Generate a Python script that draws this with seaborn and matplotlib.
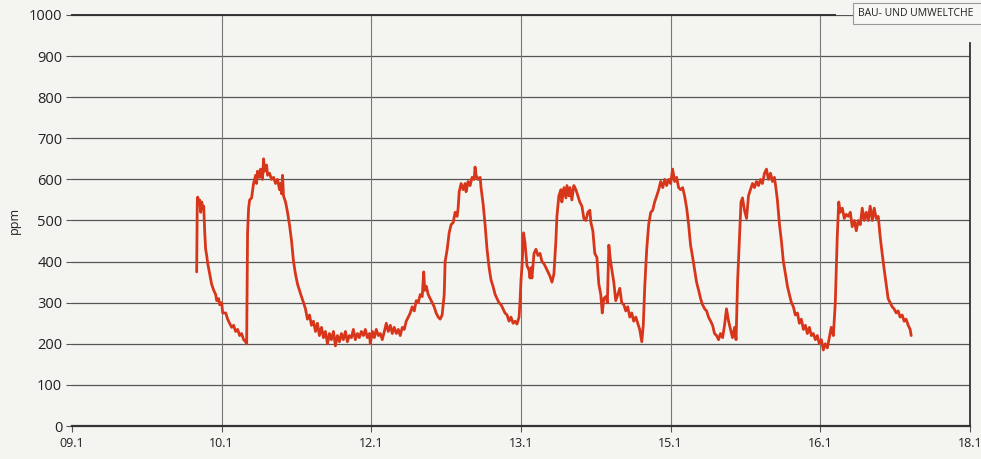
import matplotlib
matplotlib.use("Agg")
import matplotlib.pyplot as plt
import seaborn as sns
import pandas as pd
from matplotlib.patches import Rectangle

# ---- data (x in days since 09.1, y in ppm) ----
tick_positions = [0, 1, 2, 3, 4, 5, 6]
tick_labels = ["09.1", "10.1", "12.1", "13.1", "15.1", "16.1", "18.1"]
y_ticks = [0, 100, 200, 300, 400, 500, 600, 700, 800, 900, 1000]

days = [
    0.833, 0.837, 0.840, 0.847, 0.853, 0.860, 0.867, 0.873, 0.880, 0.887, 0.893, 0.900, 0.907,
    0.920, 0.933, 0.947, 0.960, 0.967, 0.980, 0.987, 1.000, 1.007, 1.027, 1.040, 1.053, 1.067,
    1.080, 1.093, 1.107, 1.120, 1.133, 1.147, 1.160, 1.167, 1.170, 1.173, 1.180, 1.187, 1.200,
    1.213, 1.227, 1.233, 1.240, 1.253, 1.260, 1.273, 1.280, 1.287, 1.300, 1.307, 1.320, 1.333,
    1.347, 1.360, 1.373, 1.387, 1.393, 1.400, 1.407, 1.413, 1.427, 1.440, 1.453, 1.467, 1.480,
    1.493, 1.507, 1.520, 1.533, 1.547, 1.560, 1.573, 1.587, 1.600, 1.613, 1.627, 1.640, 1.653,
    1.667, 1.680, 1.693, 1.707, 1.720, 1.733, 1.747, 1.760, 1.773, 1.787, 1.800, 1.813, 1.827,
    1.840, 1.853, 1.867, 1.880, 1.893, 1.907, 1.920, 1.933, 1.947, 1.960, 1.973, 1.987, 1.993,
    2.007, 2.020, 2.033, 2.047, 2.060, 2.073, 2.087, 2.100, 2.113, 2.127, 2.140, 2.153, 2.167,
    2.180, 2.193, 2.207, 2.220, 2.233, 2.247, 2.260, 2.273, 2.287, 2.300, 2.313, 2.327, 2.340,
    2.350, 2.357, 2.367, 2.380, 2.393, 2.407, 2.420, 2.433, 2.447, 2.460, 2.473, 2.487, 2.493,
    2.507, 2.520, 2.533, 2.547, 2.560, 2.573, 2.580, 2.587, 2.600, 2.613, 2.627, 2.633, 2.647,
    2.660, 2.673, 2.687, 2.693, 2.700, 2.713, 2.727, 2.733, 2.747, 2.760, 2.773, 2.787, 2.800,
    2.813, 2.827, 2.840, 2.853, 2.867, 2.880, 2.893, 2.907, 2.920, 2.933, 2.947, 2.960, 2.973,
    2.987, 2.993, 3.000, 3.007, 3.017, 3.027, 3.033, 3.040, 3.053, 3.060, 3.067, 3.073, 3.087,
    3.100, 3.113, 3.127, 3.140, 3.153, 3.167, 3.180, 3.193, 3.207, 3.220, 3.233, 3.240, 3.253,
    3.267, 3.273, 3.287, 3.300, 3.307, 3.320, 3.327, 3.340, 3.353, 3.367, 3.380, 3.393, 3.407,
    3.420, 3.433, 3.447, 3.460, 3.467, 3.480, 3.493, 3.507, 3.520, 3.533, 3.543, 3.553, 3.567,
    3.577, 3.587, 3.597, 3.607, 3.620, 3.633, 3.647, 3.660, 3.673, 3.687, 3.700, 3.713, 3.727,
    3.740, 3.753, 3.767, 3.780, 3.793, 3.807, 3.817, 3.827, 3.840, 3.853, 3.867, 3.880, 3.893,
    3.907, 3.920, 3.933, 3.947, 3.960, 3.973, 3.987, 4.000, 4.013, 4.027, 4.040, 4.053, 4.067,
    4.080, 4.093, 4.107, 4.120, 4.133, 4.147, 4.160, 4.173, 4.187, 4.200, 4.213, 4.227, 4.240,
    4.253, 4.267, 4.280, 4.293, 4.307, 4.320, 4.333, 4.347, 4.360, 4.373, 4.387, 4.400, 4.413,
    4.427, 4.437, 4.447, 4.460, 4.470, 4.480, 4.493, 4.507, 4.520, 4.533, 4.547, 4.560, 4.573,
    4.587, 4.600, 4.613, 4.627, 4.640, 4.653, 4.667, 4.680, 4.693, 4.703, 4.713, 4.727, 4.740,
    4.753, 4.767, 4.780, 4.793, 4.807, 4.820, 4.833, 4.847, 4.860, 4.873, 4.887, 4.900, 4.913,
    4.927, 4.940, 4.953, 4.967, 4.980, 4.993, 5.007, 5.020, 5.033, 5.047, 5.060, 5.073, 5.087,
    5.100, 5.113, 5.123, 5.133, 5.147, 5.160, 5.173, 5.187, 5.200, 5.213, 5.227, 5.240, 5.253,
    5.267, 5.280, 5.293, 5.307, 5.320, 5.333, 5.347, 5.360, 5.373, 5.387, 5.400, 5.413, 5.427,
    5.440, 5.453, 5.467, 5.480, 5.493, 5.507, 5.520, 5.533, 5.547, 5.560, 5.573, 5.587, 5.600,
    5.607,
]

ppm = [
    375, 545, 557, 540, 550, 520, 545, 530, 535, 470, 430, 415, 395,
    370, 345, 330, 320, 305, 310, 295, 300, 275, 275, 260, 250, 240,
    245, 230, 235, 220, 225, 210, 205, 200, 350, 470, 530, 550, 555,
    590, 610, 590, 620, 605, 625, 600, 650, 620, 635, 610, 615, 600,
    605, 590, 600, 575, 590, 565, 610, 560, 545, 520, 490, 450, 400,
    370, 345, 330, 315, 300, 285, 260, 270, 245, 255, 230, 250, 220,
    240, 215, 230, 200, 225, 210, 230, 195, 220, 205, 225, 210, 230,
    205, 220, 215, 235, 210, 225, 215, 230, 220, 235, 215, 225, 200,
    230, 215, 235, 220, 225, 210, 230, 250, 230, 245, 225, 240, 225,
    235, 220, 240, 235, 255, 265, 275, 290, 280, 305, 300, 320, 315,
    375, 330, 340, 320, 310, 300, 290, 275, 265, 260, 270, 320, 400,
    430, 470, 490, 495, 520, 510, 530, 570, 590, 575, 590, 570, 595,
    585, 605, 600, 630, 610, 600, 605, 580, 540, 490, 430, 385, 355,
    340, 320, 310, 300, 295, 285, 275, 270, 255, 265, 250, 255, 248,
    265, 300, 355, 390, 470, 445, 420, 390, 380, 360, 385, 360, 420,
    430, 415, 420, 400, 395, 385, 375, 365, 350, 370, 450, 510, 560,
    575, 545, 580, 555, 585, 560, 580, 550, 585, 575, 560, 545, 535,
    505, 500, 520, 525, 495, 475, 420, 410, 345, 320, 275, 310, 315,
    300, 440, 405, 380, 350, 305, 320, 335, 300, 295, 280, 290, 265,
    275, 255, 265, 250, 235, 205, 245, 340, 430, 490, 520, 525, 545,
    560, 575, 595, 580, 600, 585, 600, 590, 625, 595, 605, 580, 575,
    580, 560, 530, 490, 440, 410, 380, 350, 330, 310, 295, 285, 280,
    265, 255, 245, 225, 220, 210, 225, 215, 245, 285, 255, 235, 215,
    240, 210, 350, 460, 545, 555, 525, 505, 560, 575, 590, 580, 595,
    585, 600, 590, 615, 625, 600, 615, 595, 605, 580, 550, 490, 450,
    400, 370, 340, 320, 300, 290, 270, 275, 250, 260, 235, 245, 225,
    240, 220, 225, 210, 220, 200, 210, 185, 200, 190, 215, 240, 220,
    300, 460, 545, 520, 530, 505, 515, 510, 520, 485, 500, 475, 500,
    490, 530, 500, 520, 500, 535, 500, 530, 505, 510, 460, 420, 380,
    345, 310, 300, 290, 285, 275, 280, 265, 270, 255, 260, 245, 235,
    220,
]

df = pd.DataFrame({"day": days, "ppm": ppm})

# ---- style ----
sns.set_style("white")
plt.rcParams["font.family"] = ["Open Sans", "DejaVu Sans"]

bg = "#f4f4f1"
line_color = "#d8361a"
grid_color = "#555555"

fig = plt.figure(figsize=(9.81, 4.59), dpi=100, facecolor=bg)
ax = fig.add_axes([72 / 981, 1 - 426 / 459, (970 - 72) / 981, (426 - 15) / 459])
ax.set_facecolor(bg)

sns.lineplot(data=df, x="day", y="ppm", ax=ax, color=line_color, linewidth=2.0,
             estimator=None, sort=False, zorder=3)

ax.set_xlim(0, 6)
ax.set_ylim(0, 1000)
ax.set_xticks(tick_positions)
ax.set_xticklabels(tick_labels, fontsize=9, color="#222222")
ax.set_yticks(y_ticks)
ax.set_yticklabels([str(v) for v in y_ticks], fontsize=10.5, color="#222222")

# grid
for v in y_ticks[1:]:
    ax.axhline(v, color=grid_color, linewidth=0.9, zorder=1)
for p in tick_positions[1:-1]:
    ax.axvline(p, color="#777777", linewidth=0.8, zorder=1)

ax.tick_params(axis="y", length=4, width=0.8, color=grid_color, pad=3, left=True)
ax.tick_params(axis="x", length=4, width=0.8, color=grid_color, pad=4, bottom=True)

ax.spines["left"].set_visible(False)
ax.spines["bottom"].set_color("#333333")
ax.spines["bottom"].set_linewidth(1.6)
ax.spines["top"].set_color("#333333")
ax.spines["top"].set_linewidth(1.4)
ax.spines["top"].set_bounds(0, (835 - 72) / 149.7)
ax.spines["right"].set_color("#333333")
ax.spines["right"].set_linewidth(1.3)
ax.spines["right"].set_bounds(0, 932)

ax.set_xlabel("")
ax.set_ylabel("ppm", fontsize=9, color="#222222", labelpad=6)

# header box (runs off the right edge, as in the scan)
fig.patches.append(Rectangle((853 / 981, 1 - 24 / 459), 0.2, 21 / 459, transform=fig.transFigure,
                             facecolor="#f7f7f5", edgecolor="#999999", linewidth=0.8, zorder=5))
fig.text(858 / 981, 1 - 13.5 / 459, "BAU- UND UMWELTCHE", fontsize=7.5, color="#222222",
         va="center", ha="left", zorder=6)

fig.savefig("out.png", dpi=100, facecolor=bg)
